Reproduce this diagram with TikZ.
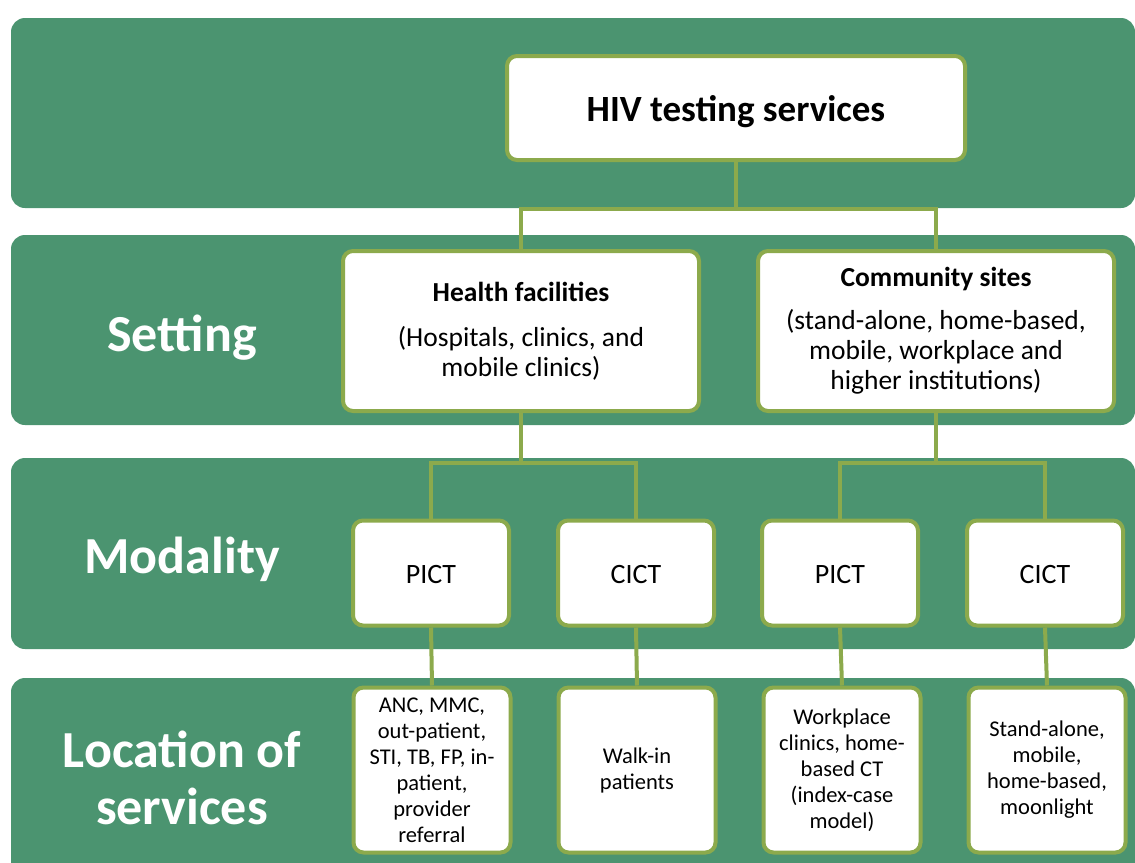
\documentclass[tikz,border=0pt]{standalone}
\usepackage{fontspec}
\setmainfont{Carlito}
\definecolor{band}{HTML}{4B9470}
\definecolor{olive}{HTML}{8CAA4C}
\begin{document}
\begin{tikzpicture}[x=1pt,y=-1pt,
  bandbox/.style={fill=band, rounded corners=14pt},
  wbox/.style={draw=olive, line width=4pt, fill=white, rounded corners=10pt, inner sep=0pt, align=center},
  locbox/.style={wbox, minimum width=157pt, minimum height=165pt, font=\fontsize{22.5}{26}\selectfont},
  conn/.style={draw=olive, line width=4pt},
  lbl/.style={text=white, font=\bfseries\fontsize{52}{57}\selectfont, align=center}]
\useasboundingbox (0,0) rectangle (1135,862);
\clip (0,0) rectangle (1135,862);
\path[bandbox] (11,18) rectangle (1135,208);
\path[bandbox] (11,235) rectangle (1135,425);
\path[bandbox] (11,458) rectangle (1135,649);
\path[bandbox] (11,678) rectangle (1135,890);

\node[lbl] (setting) at (182,338) {Setting};
\node[lbl] (modality) at (182,559) {Modality};
\node[lbl] (location) at (182,778) {Location of\\services};

\node[wbox, minimum width=458pt, minimum height=104pt, font=\bfseries\fontsize{37}{42}\selectfont] (hiv) at (736,108) {\raisebox{-4pt}[\height][\depth]{HIV testing services}};
\node[wbox, minimum width=356pt, minimum height=160pt, font=\fontsize{27.5}{30}\selectfont] (hf) at (521,331) {{\bfseries Health facilities}\\[15pt](Hospitals, clinics, and\\mobile clinics)};
\node[wbox, minimum width=356pt, minimum height=160pt, font=\fontsize{27.5}{30}\selectfont] (cs) at (936,331) {{\bfseries Community sites}\\[13pt](stand-alone, home-based,\\mobile, workplace and\\higher institutions)};

\foreach \n/\x/\t in {p1/431/PICT, c1/636/CICT, p2/840/PICT, c2/1045/CICT}
  \node[wbox, minimum width=156pt, minimum height=105pt, font=\fontsize{28}{32}\selectfont] (\n) at (\x,573) {\raisebox{-2pt}[\height][\depth]{\t}};

\node[locbox] (l1) at (432,770) {ANC, MMC,\\out-patient,\\STI, TB, FP, in-\\patient,\\provider\\referral};
\node[locbox] (l2) at (637,770) {Walk-in\\patients};
\node[locbox] (l3) at (842,770) {Workplace\\clinics, home-\\based CT\\(index-case\\model)};
\node[locbox] (l4) at (1047,770) {Stand-alone,\\mobile,\\home-based,\\moonlight};

\draw[conn] (hiv.south) -- ++(0,47) -| (hf.north);
\draw[conn] (hiv.south) -- ++(0,47) -| (cs.north);
\draw[conn] (hf.south) -- ++(0,50) -| (p1.north);
\draw[conn] (hf.south) -- ++(0,50) -| (c1.north);
\draw[conn] (cs.south) -- ++(0,50) -| (p2.north);
\draw[conn] (cs.south) -- ++(0,50) -| (c2.north);
\draw[conn] (p1.south) -- (l1.north);
\draw[conn] (c1.south) -- (l2.north);
\draw[conn] (p2.south) -- (l3.north);
\draw[conn] (c2.south) -- (l4.north);
\end{tikzpicture}
\end{document}
